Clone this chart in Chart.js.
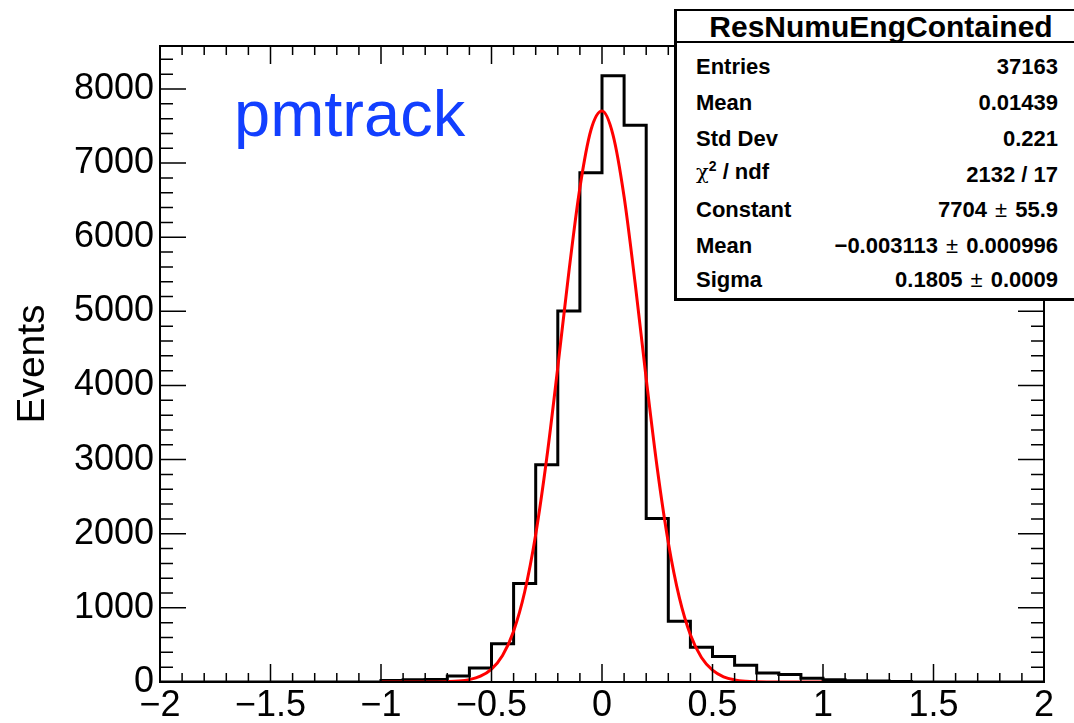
<!DOCTYPE html>
<html>
<head>
<meta charset="utf-8">
<script src="https://cdn.jsdelivr.net/npm/chart.js@4.4.1/dist/chart.umd.min.js"></script>
<style>
html,body{margin:0;padding:0;background:#fff;overflow:hidden;}
#wrap{position:relative;width:1074px;height:723px;overflow:hidden;font-family:"Liberation Sans",Arial,Helvetica,sans-serif;color:#000;}
#c{position:absolute;left:0;top:0;}
.ann{position:absolute;white-space:nowrap;}
#label{left:234px;top:81px;font-size:65px;line-height:65px;color:#123fff;}
#stats{position:absolute;left:674px;top:9px;width:414px;height:292px;background:#fff;border:2px solid #000;border-left-width:3px;border-bottom-width:3px;box-sizing:border-box;}
#sep{position:absolute;left:674px;top:41px;width:414px;height:2px;background:#000;}
#stitle{position:absolute;left:674px;width:414px;top:12px;text-align:center;font-weight:bold;font-size:30px;line-height:30px;}
.sl{position:absolute;left:696px;font-weight:bold;font-size:22px;line-height:22px;white-space:nowrap;}
.sv{position:absolute;right:16px;font-weight:bold;font-size:22px;line-height:22px;white-space:nowrap;text-align:right;}
.pm{font-weight:normal;padding:0 2px;}
.chi{font-weight:normal;font-family:"DejaVu Serif",serif;font-size:21px;}
sup{font-size:14px;line-height:0;}
</style>
</head>
<body>
<div id="wrap">
<canvas id="c" width="1074" height="723"></canvas>
<div class="ann" id="label">pmtrack</div>
<div id="stats"></div>
<div id="sep"></div>
<div id="stitle">ResNumuEngContained</div>
<div id="rows"></div>
</div>
<script>
// ---- data ----
const xMin = -2;
const xMax = 2;
const binWidth = 0.1;
const binCounts = [
  0, 0, 0, 0, 0, 0, 0, 0, 0, 0,
  20, 30, 35, 82, 190, 515, 1328, 2930, 5005, 6870,
  8180, 7510, 2205, 820, 470, 345, 225, 122, 100, 52,
  30, 18, 12, 8, 0, 0, 0, 0, 0, 0
];
const fitX = [
  -1, -0.95, -0.9, -0.85, -0.8, -0.75, -0.7, -0.65, -0.6, -0.55,
  -0.5, -0.45, -0.4, -0.35, -0.3, -0.25, -0.2, -0.15, -0.1, -0.05,
  0, 0.05, 0.1, 0.15, 0.2, 0.25, 0.3, 0.35, 0.4, 0.45,
  0.5, 0.55, 0.6, 0.65, 0.7, 0.75, 0.8, 0.85, 0.9, 0.95, 1
];
const fitY = [
  0, 0, 0, 0, 0.4, 1.5, 4.5, 12, 32, 78,
  174, 359, 686, 1214, 1990, 3021, 4247, 5530, 6668, 7447,
  7703, 7379, 6547, 5379, 4093, 2884, 1883, 1138, 637, 330,
  159, 70, 29, 11, 4, 1.3, 0.4, 0, 0, 0, 0
];
const xTickValues = [-2, -1.5, -1, -0.5, 0, 0.5, 1, 1.5, 2];
const yTickValues = [0, 1000, 2000, 3000, 4000, 5000, 6000, 7000, 8000];
const yMax = 8580;
const statsLabels = ['Entries', 'Mean', 'Std Dev', '<span class="chi">χ</span><sup>2</sup> / ndf', 'Constant', 'Mean', 'Sigma'];
const statsValues = ['37163', '0.01439', '0.221', '2132 / 17',
  '7704 <span class="pm">±</span> 55.9',
  '−0.003113 <span class="pm">±</span> 0.000996',
  '0.1805 <span class="pm">±</span> 0.0009'];
const labelTops = [56.4, 92.2, 128, 160.5, 198.6, 234.5, 268.8];
const valueTops = [56.4, 92.2, 128, 163.5, 198.6, 234.5, 268.8];

// stats rows
const rows = document.getElementById('rows');
statsLabels.forEach((l, i) => {
  const a = document.createElement('div'); a.className = 'sl'; a.style.top = labelTops[i] + 'px'; a.innerHTML = l; rows.appendChild(a);
  const b = document.createElement('div'); b.className = 'sv'; b.style.top = valueTops[i] + 'px'; b.innerHTML = statsValues[i]; rows.appendChild(b);
});

// histogram outline points at bin low edges + final edge
const histPoints = binCounts.map((c, i) => ({x: xMin + i * binWidth, y: c}));
histPoints.push({x: xMax, y: binCounts[binCounts.length - 1]});
const fitPoints = fitX.map((x, i) => ({x: x, y: fitY[i]}));

function fmt(v) {
  const r = Math.round(v * 100) / 100;
  return r < 0 ? '\u2212' + String(-r) : String(r);
}

const frameTicks = {
  id: 'frameTicks',
  afterDatasetsDraw(chart) {
    const {ctx, chartArea: a, scales: {x, y}} = chart;
    ctx.save();
    ctx.strokeStyle = '#000';
    ctx.lineWidth = 1.5;
    ctx.beginPath();
    for (let i = -20; i <= 20; i++) {
      const px = x.getPixelForValue(i / 10);
      const len = (i % 5 === 0) ? 18 : 9;
      ctx.moveTo(px, a.bottom); ctx.lineTo(px, a.bottom - len);
      ctx.moveTo(px, a.top); ctx.lineTo(px, a.top + len);
    }
    for (let j = 0; j * 200 <= y.max; j++) {
      const py = y.getPixelForValue(j * 200);
      const len = (j % 5 === 0) ? 26 : 13;
      ctx.moveTo(a.left, py); ctx.lineTo(a.left + len, py);
      ctx.moveTo(a.right, py); ctx.lineTo(a.right - len, py);
    }
    ctx.stroke();
    ctx.lineWidth = 2;
    ctx.strokeRect(a.left, a.top, a.right - a.left, a.bottom - a.top);
    ctx.restore();
  }
};

const tickFont = {family: '"Liberation Sans", Arial, Helvetica, sans-serif', size: 36};

new Chart(document.getElementById('c'), {
  type: 'line',
  data: {
    datasets: [
      {
        label: 'fit',
        data: fitPoints,
        borderColor: '#ff0000',
        borderWidth: 3,
        pointRadius: 0,
        fill: false,
        cubicInterpolationMode: 'monotone'
      },
      {
        label: 'ResNumuEngContained',
        data: histPoints,
        borderColor: '#000000',
        borderWidth: 3,
        pointRadius: 0,
        fill: false,
        stepped: 'before',
        borderJoinStyle: 'miter'
      }
    ]
  },
  options: {
    responsive: false,
    animation: false,
    devicePixelRatio: 1,
    layout: {padding: {left: 0, top: 46, right: 30, bottom: 0}},
    plugins: {legend: {display: false}, tooltip: {enabled: false}},
    scales: {
      x: {
        type: 'linear', min: xMin, max: xMax,
        grid: {display: false, drawTicks: false},
        border: {display: false},
        afterBuildTicks: s => { s.ticks = xTickValues.map(v => ({value: v})); },
        afterFit: s => { s.height = 41; },
        ticks: {autoSkip: false, maxRotation: 0, minRotation: 0, padding: 2, color: '#000', font: tickFont, callback: v => fmt(v)}
      },
      y: {
        type: 'linear', min: 0, max: yMax,
        grid: {display: false, drawTicks: false},
        border: {display: false},
        afterBuildTicks: s => { s.ticks = yTickValues.map(v => ({value: v})); },
        afterFit: s => { s.width = 160; },
        ticks: {autoSkip: false, padding: 6, color: '#000', font: tickFont, callback: v => String(v)},
        title: {display: true, text: 'Events', color: '#000', font: {family: '"Liberation Sans", Arial, Helvetica, sans-serif', size: 39}, padding: {top: 10, bottom: 0}}
      }
    }
  },
  plugins: [frameTicks]
});
</script>
</body>
</html>
